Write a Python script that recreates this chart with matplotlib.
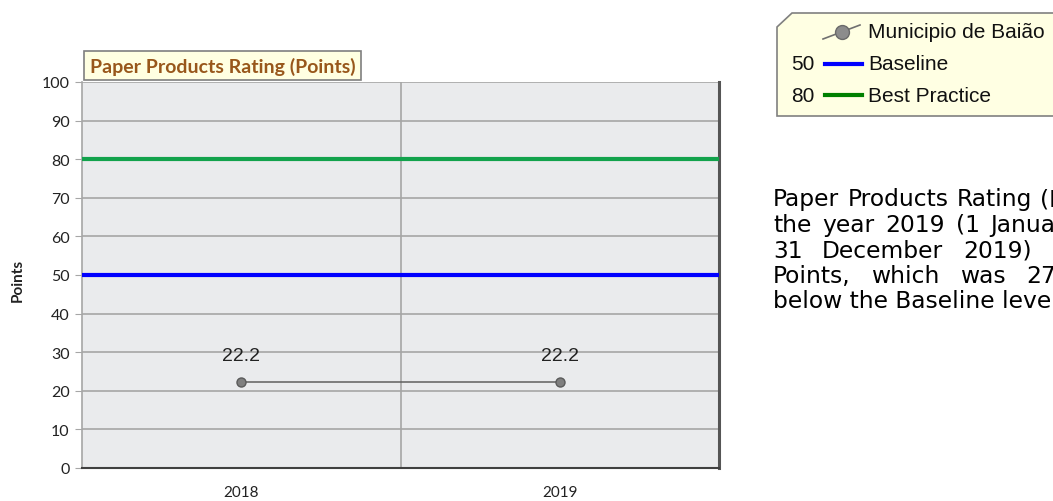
import matplotlib
matplotlib.use('Agg')
import matplotlib.pyplot as plt
from matplotlib.patches import Polygon
from matplotlib.lines import Line2D

years = ['2018', '2019']
values = [22.2, 22.2]
baseline = 50
best_practice = 80
yticks = list(range(0, 101, 10))

title = 'Paper Products Rating (Points)'
series_name = 'Municipio de Baião'
summary_lines = [
    'Paper Products Rating (Points) for',
    'the year 2019 (1 January 2019 -',
    '31 December 2019) was 22.2',
    'Points, which was 27.8 Points',
    'below the Baseline level.',
]

W, H = 1053, 502
fig = plt.figure(figsize=(W / 100, H / 100), dpi=100)

def fx(px):
    return px / W

def fy(py):
    return 1 - py / H

ax = fig.add_axes([fx(82), fy(469), fx(719) - fx(82), fy(83) - fy(469)])
ax.set_facecolor('#EAEBED')
x = list(range(len(years)))
ax.set_xlim(-0.5, len(years) - 0.5)
ax.set_ylim(0, 100)
ax.set_yticks(yticks)
ax.set_xticks(x)
ax.set_xticklabels(years)
ax.yaxis.grid(True, color='#A6A6A6', lw=1.2)
ax.axvline(0.5, color='#A6A6A6', lw=1.2)
ax.set_axisbelow(True)

ax.axhline(best_practice, color='#12A24C', lw=3, zorder=3)
ax.axhline(baseline, color='#0000FF', lw=3, zorder=3)
ax.plot(x, values, color='#606060', lw=1.1, marker='o', ms=6.5,
        mfc='#7F7F7F', mec='#5A5A5A', zorder=4)
for xi, v in zip(x, values):
    ax.annotate(f'{v:.1f}', (xi, v), xytext=(0, 19), textcoords='offset points',
                ha='center', va='center', fontsize=14, color='#222222',
                family='Liberation Sans')

ax.spines['top'].set_visible(False)
ax.spines['left'].set_color('#A6A6A6')
ax.spines['left'].set_linewidth(1.2)
ax.spines['bottom'].set_color('#404040')
ax.spines['bottom'].set_linewidth(1.5)
ax.spines['right'].set_color('#555555')
ax.spines['right'].set_linewidth(2.2)
ax.tick_params(axis='y', length=5, color='#A6A6A6', labelsize=11.5, labelcolor='#222222', pad=4)
ax.tick_params(axis='x', length=0, labelsize=11, labelcolor='#222222', pad=12)
for lab in ax.get_xticklabels() + ax.get_yticklabels():
    lab.set_family('Lato')
fig.text(fx(18), fy(280), 'Points', rotation=90, ha='center', va='center',
         fontsize=11, fontweight='bold', family='Lato', color='#222222')

# title box
fig.text(fx(90), fy(66.5), title, ha='left', va='center', fontsize=14,
         fontweight='bold', color='#98571B', family='Lato',
         bbox=dict(boxstyle='square,pad=0.3', fc='#FFFFE1', ec='#7F7F7F', lw=1.2))

# legend box with cut corner
leg = Polygon([(fx(792), fy(14)), (fx(1060), fy(14)), (fx(1060), fy(117)),
               (fx(777), fy(117)), (fx(777), fy(28))], closed=True,
              transform=fig.transFigure, fc='#FFFFE3', ec='#808080', lw=1.2)
fig.add_artist(leg)
fig.add_artist(Line2D([fx(823), fx(860)], [fy(40), fy(26)], transform=fig.transFigure,
                      color='#707070', lw=1.2))
fig.add_artist(Line2D([fx(842)], [fy(33)], transform=fig.transFigure,
                      marker='o', ms=10, mfc='#8C8C8C', mec='#6A6A6A'))
fig.text(fx(868), fy(33), series_name, ha='left', va='center', fontsize=15,
         family='Liberation Sans', color='#111111')
for yy, val, col, name in [(65, baseline, '#0000FF', 'Baseline'),
                           (96, best_practice, '#008000', 'Best Practice')]:
    fig.text(fx(791), fy(yy), str(val), ha='left', va='center', fontsize=15,
             family='Liberation Sans', color='#111111')
    fig.add_artist(Line2D([fx(825), fx(862)], [fy(yy), fy(yy)], transform=fig.transFigure,
                          color=col, lw=3))
    fig.text(fx(868), fy(yy), name, ha='left', va='center', fontsize=15,
             family='Liberation Sans', color='#111111')

# summary text, justified like the original paragraph (runs off the right edge)
renderer = fig.canvas.get_renderer()
text_kw = dict(fontsize=16.8, family='DejaVu Sans', color='#000000', va='center', ha='left')
left, width = 773, 396
for i, line in enumerate(summary_lines):
    yy = fy(200 + i * 25.5)
    words = line.split(' ')
    if i == len(summary_lines) - 1:
        fig.text(fx(left), yy, line, **text_kw)
        continue
    widths = []
    for w in words:
        t = fig.text(0, 0, w, **text_kw)
        widths.append(t.get_window_extent(renderer).width)
        t.remove()
    gap = (width - sum(widths)) / (len(words) - 1)
    pos = left
    for w, wd in zip(words, widths):
        fig.text(fx(pos), yy, w, **text_kw)
        pos += wd + gap

fig.savefig('out.png', dpi=100)
